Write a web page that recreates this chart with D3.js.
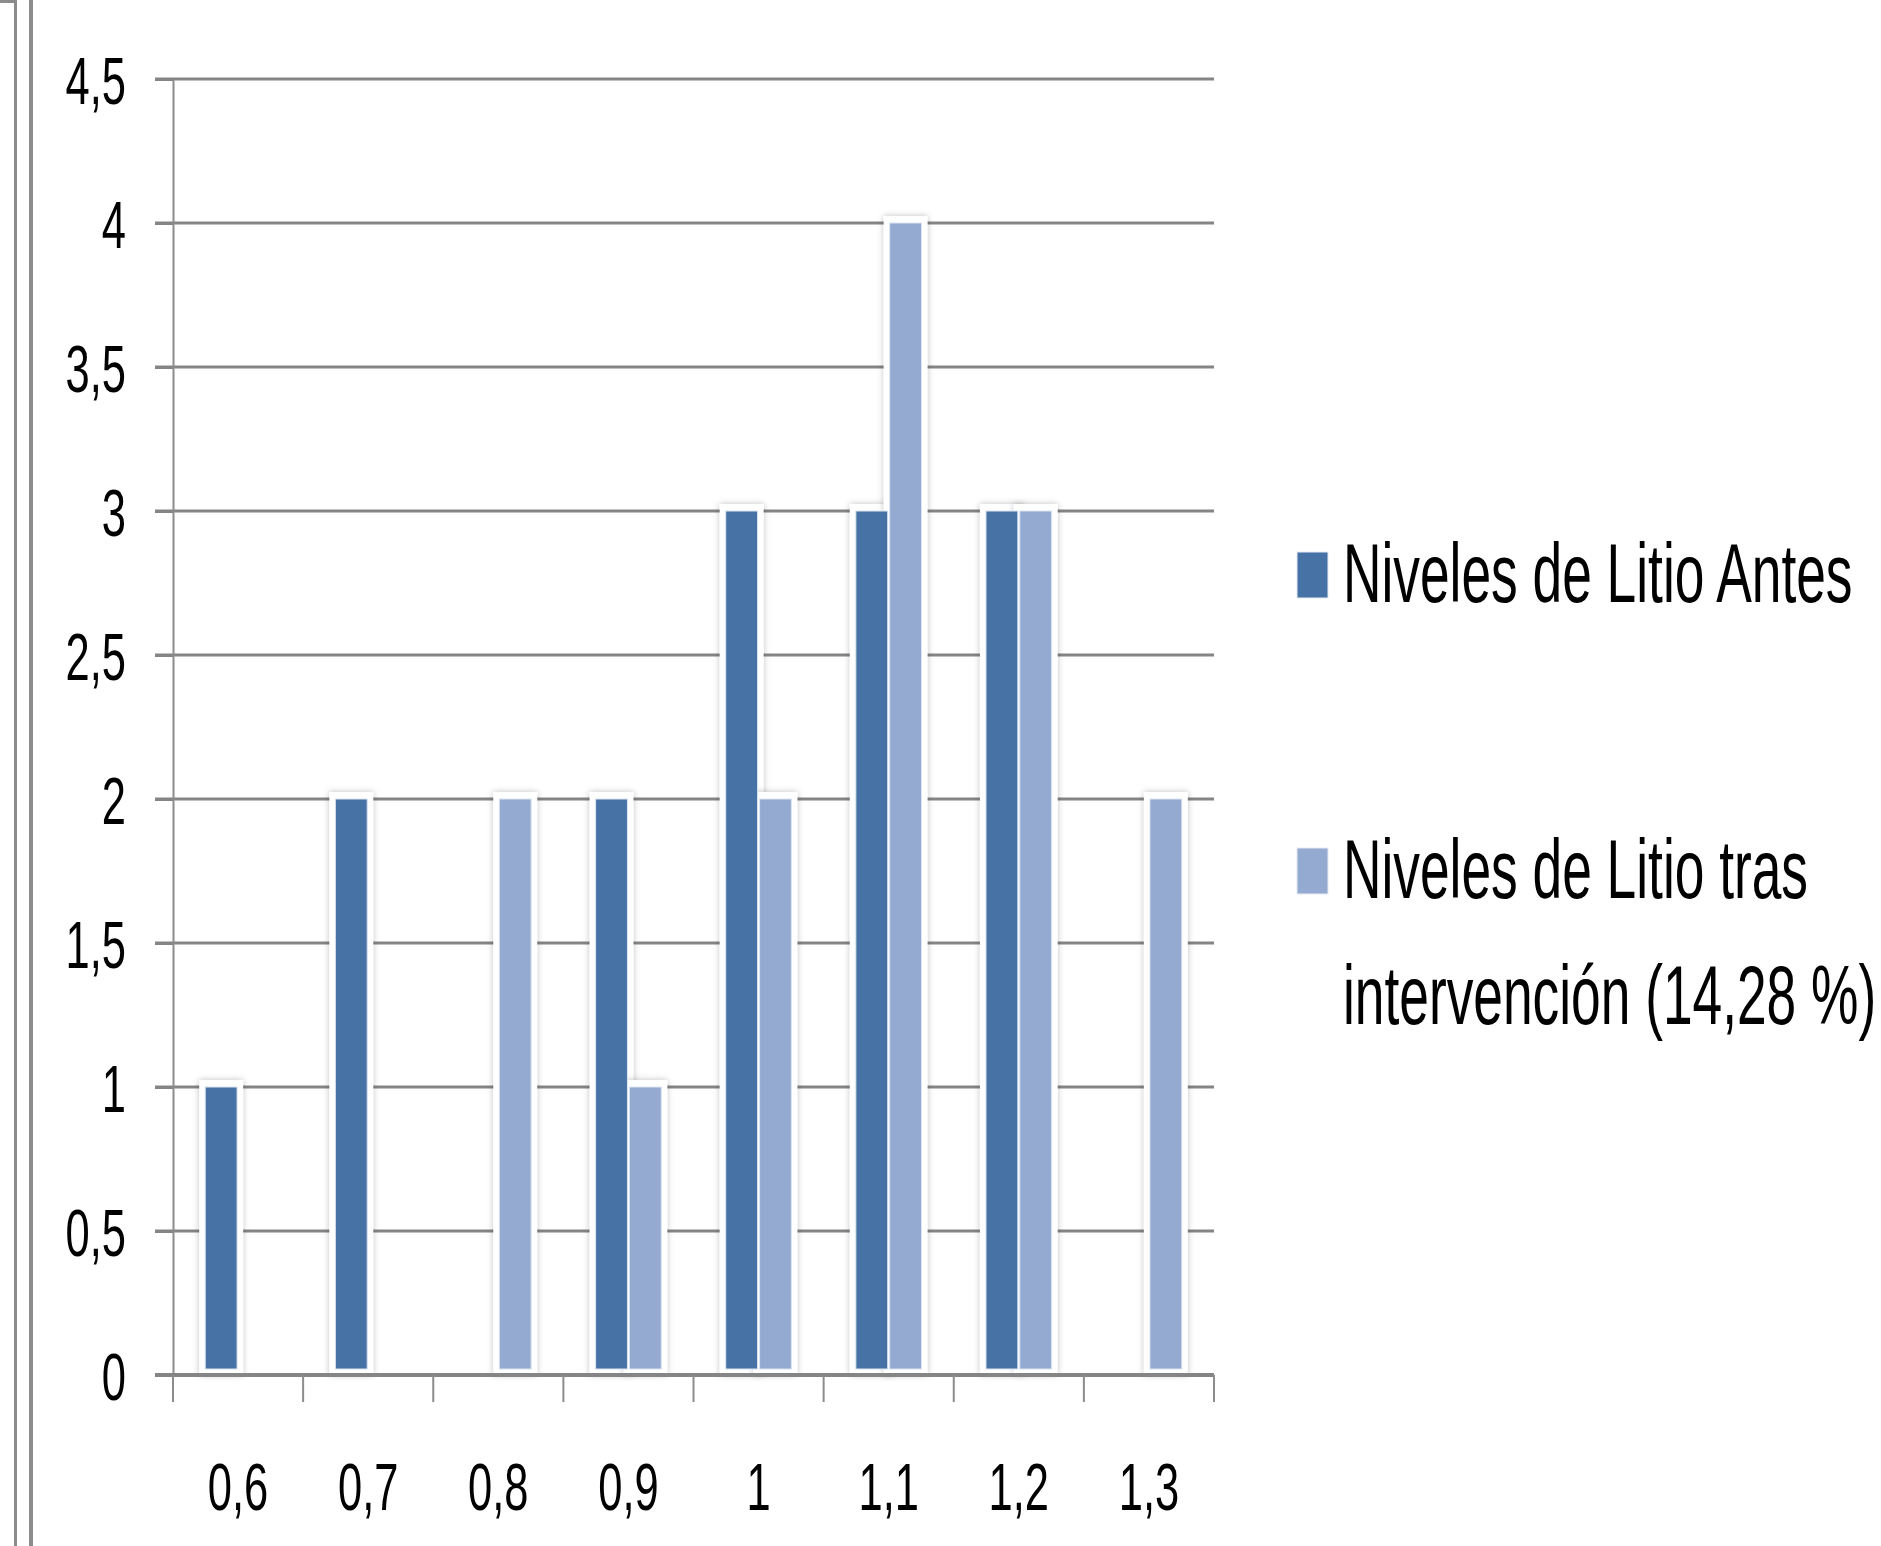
<!DOCTYPE html>
<html>
<head>
<meta charset="utf-8">
<script src="https://cdn.jsdelivr.net/npm/d3@7"></script>
<style>
  body { margin: 0; background: #fff; }
  text { font-family: "Liberation Sans", Arial, sans-serif; fill: #000; }
</style>
</head>
<body>
<div id="chart"></div>
<script>
const categories = ["0,6", "0,7", "0,8", "0,9", "1", "1,1", "1,2", "1,3"];
const seriesNames = ["Niveles de Litio Antes", "Niveles de Litio tras intervención (14,28 %)"];
const antes = [1, 2, 0, 2, 3, 3, 3, 0];
const tras = [0, 0, 2, 1, 2, 4, 3, 2];
const yTicks = [0, 0.5, 1, 1.5, 2, 2.5, 3, 3.5, 4, 4.5];
const colors = ["#4672a6", "#95aad1"];

function main() {
    const width = 1881;
    const height = 1546;
    const textScale = "scale(0.82,1.27)"; // text in the picture is narrow and stretched

    const svg = d3.select("#chart")
        .append("svg")
        .attr("width", width)
        .attr("height", height)

    svg.append("rect").attr("width", width).attr("height", height).attr("fill", "#fff")

    // shadow behind the bars
    const defs = svg.append("defs")
    const f = defs.append("filter").attr("id", "shadow")
        .attr("x", "-50%").attr("y", "-10%").attr("width", "200%").attr("height", "120%")
    f.append("feDropShadow").attr("dx", 0).attr("dy", 0).attr("stdDeviation", 3)
        .attr("flood-color", "#000").attr("flood-opacity", 0.25)

    // frame lines on the left
    svg.append("path").attr("d", "M0,1.5H15.5V" + height)
        .attr("fill", "none").attr("stroke", "#8c8c8c").attr("stroke-width", 3)
    svg.append("line").attr("x1", 31).attr("x2", 31).attr("y1", 0).attr("y2", height)
        .attr("stroke", "#8c8c8c").attr("stroke-width", 4)

    const plot = { left: 173, right: 1214, top: 79, bottom: 1375 }

    const x0 = d3.scaleBand().domain(categories)
        .range([plot.left, plot.right])
        .paddingInner(0.48).paddingOuter(0.24)
    const x1 = d3.scaleBand().domain([0, 1]).range([0, x0.bandwidth()])
    const y = d3.scaleLinear().domain([0, 4.5]).range([plot.bottom, plot.top])

    // gridlines
    svg.append("g").selectAll("line")
        .data(yTicks)
        .join("line")
        .attr("x1", plot.left - 18).attr("x2", plot.right)
        .attr("y1", d => y(d)).attr("y2", d => y(d))
        .attr("stroke", "#858585").attr("stroke-width", 3)

    const data = []
    categories.forEach((c, i) => {
        [antes[i], tras[i]].forEach((v, s) => {
            if (v > 0) data.push({ cat: c, s: s, v: v })
        })
    })

    // white halo with shadow
    svg.append("g").selectAll("rect")
        .data(data)
        .join("rect")
        .attr("x", d => x0(d.cat) + x1(d.s) - 5)
        .attr("y", d => y(d.v) - 7)
        .attr("width", x1.bandwidth() + 10)
        .attr("height", d => y(0) - y(d.v) + 7)
        .attr("fill", "#fff")
        .attr("filter", "url(#shadow)")

    svg.append("g").selectAll("rect")
        .data(data)
        .join("rect")
        .attr("x", d => x0(d.cat) + x1(d.s) + 1)
        .attr("y", d => y(d.v))
        .attr("width", x1.bandwidth() - 2)
        .attr("height", d => y(0) - y(d.v) - 6)
        .attr("fill", d => colors[d.s])
        .attr("stroke", "#dbe4f1").attr("stroke-width", 1)

    // y axis
    const yAxis = svg.append("g")
        .attr("transform", `translate(${plot.left},0)`)
        .call(d3.axisLeft(y).tickValues(yTicks).tickSize(18).tickSizeOuter(0).tickPadding(0)
            .tickFormat(d => String(d).replace(".", ",")))
    yAxis.select(".domain").attr("stroke", "#8c8c8c").attr("stroke-width", 2)
    yAxis.selectAll(".tick line").attr("stroke", "#858585").attr("stroke-width", 3)
    yAxis.selectAll("text")
        .attr("font-size", 53)
        .attr("font-family", null)
        .attr("x", 0)
        .attr("dy", "0.36em")
        .attr("transform", `translate(-47,0) ${textScale}`)

    // x axis
    const xAxis = svg.append("g")
        .attr("transform", `translate(0,${plot.bottom})`)
        .call(d3.axisBottom(x0).tickSize(0).tickPadding(0))
    xAxis.select(".domain").remove()
    xAxis.selectAll("text")
        .attr("font-size", 53)
        .attr("font-family", null)
        .attr("y", 0).attr("dy", 0)
        .attr("transform", `translate(0,135) ${textScale}`)

    xAxis.append("line")
        .attr("x1", plot.left - 18).attr("x2", plot.right)
        .attr("stroke", "#858585").attr("stroke-width", 4)

    const bounds = categories.map(c => x0(c) - x0.step() * 0.24)
    bounds.push(plot.right)
    xAxis.append("g").selectAll("line")
        .data(bounds)
        .join("line")
        .attr("x1", d => d).attr("x2", d => d)
        .attr("y1", 0).attr("y2", 27)
        .attr("stroke", "#8c8c8c").attr("stroke-width", 2)

    // legend
    const legend = svg.append("g")
    const legendRows = [
        { s: 0, lines: ["Niveles de Litio Antes"], top: 552 },
        { s: 1, lines: ["Niveles de Litio tras", "intervención (14,28 %)"], top: 848 }
    ]
    legendRows.forEach(r => {
        legend.append("rect")
            .attr("x", 1297).attr("y", r.top)
            .attr("width", 31).attr("height", 46)
            .attr("fill", colors[r.s])
            .attr("stroke", "#e4eaf3").attr("stroke-width", 1)
        r.lines.forEach((t, k) => {
            legend.append("text")
                .attr("transform", `translate(1343,${r.top + 50 + k * 126}) ${textScale}`)
                .attr("font-size", 65)
                .text(t)
        })
    })
}
main();
</script>
</body>
</html>
